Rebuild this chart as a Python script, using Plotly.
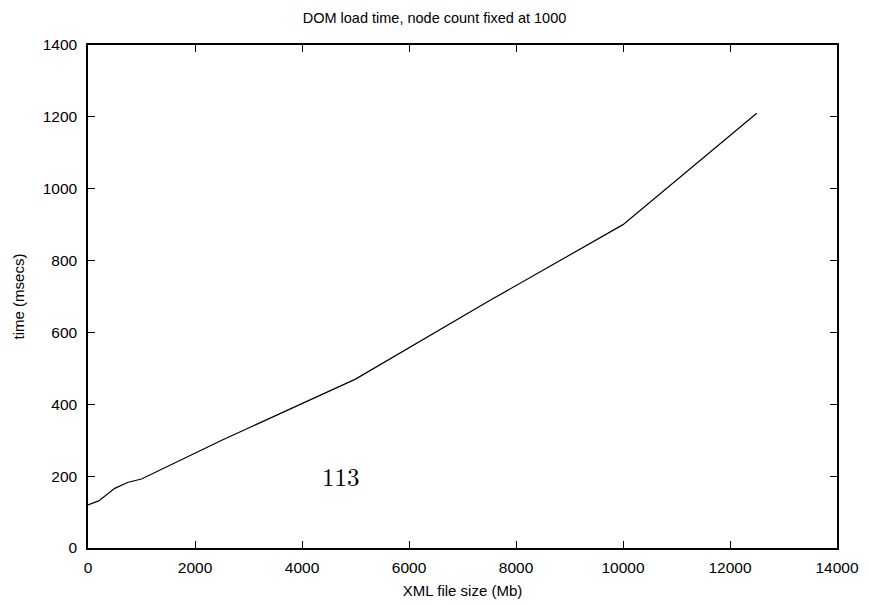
import plotly.graph_objects as go

file_size = [0, 200, 500, 750, 1000, 2500, 5000, 7500, 10000, 12500]
load_time = [120, 131, 166, 183, 192, 300, 470, 688, 900, 1210]

x_ticks = [0, 2000, 4000, 6000, 8000, 10000, 12000, 14000]
x_tick_labels = ["0", "2000", "4000", "6000", "8000", "10000", "12000", "14000"]
y_ticks = [0, 200, 400, 600, 800, 1000, 1200, 1400]
y_tick_labels = ["0", "200", "400", "600", "800", "1000", "1200", "1400"]

annot_text = "113"
annot_x = 4720
annot_y = 202

SANS = "Liberation Sans, Arial, sans-serif"

fig = go.Figure()
fig.add_trace(go.Scatter(x=file_size, y=load_time, mode="lines",
                         line=dict(color="black", width=1.2), showlegend=False))

fig.add_annotation(x=annot_x, y=annot_y, text=annot_text, showarrow=False,
                   font=dict(family="Latin Modern Roman, DejaVu Serif, Liberation Serif, serif", size=25, color="black"),
                   xanchor="center", yanchor="middle")

axis_common = dict(showgrid=False, zeroline=False, showline=True, linecolor="black",
                   linewidth=1.5, mirror="allticks", ticks="inside", ticklen=7,
                   tickcolor="black", tickwidth=1, automargin=False,
                   tickfont=dict(family=SANS, size=15.5, color="black"))

fig.update_layout(
    width=869, height=605,
    margin=dict(l=88, r=32, t=45, b=57),
    paper_bgcolor="white", plot_bgcolor="white",
    title=dict(text="DOM load time, node count fixed at 1000", x=0.5, xanchor="center",
               y=1 - 18 / 605, yanchor="middle",
               font=dict(family=SANS, size=14.5, color="black")),
    xaxis=dict(range=[0, 14000], tickvals=x_ticks, ticktext=x_tick_labels,
               ticklabelstandoff=5,
               title=dict(text="XML file size (Mb)", standoff=10,
                          font=dict(family=SANS, size=15, color="black")),
               **axis_common),
    yaxis=dict(range=[0, 1400], tickvals=y_ticks, ticktext=y_tick_labels,
               ticklabelstandoff=6,
               title=dict(text="time (msecs)", standoff=14,
                          font=dict(family=SANS, size=15, color="black")),
               **axis_common),
)

fig.write_html("out.html")
